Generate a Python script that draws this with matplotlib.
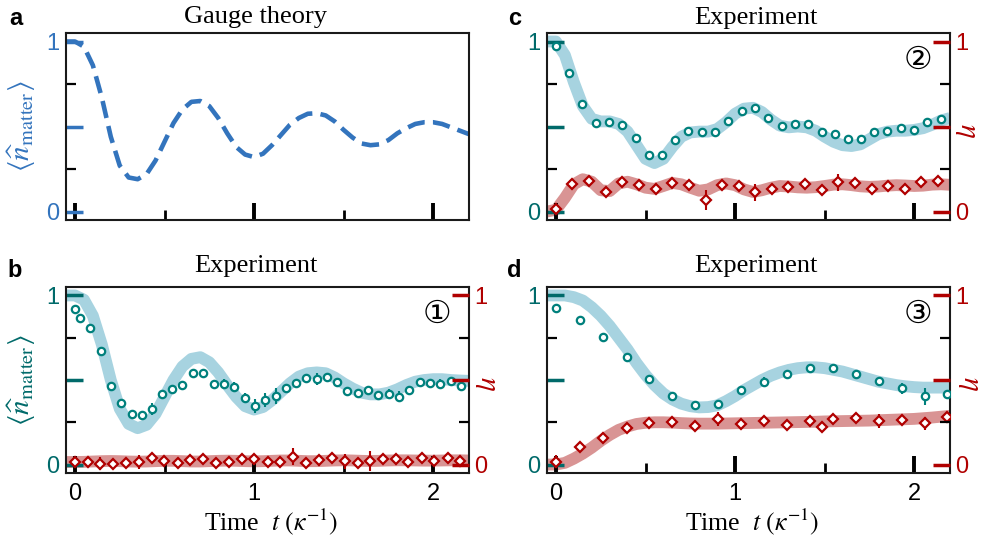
import numpy as np
import matplotlib
matplotlib.use("Agg")
import matplotlib.pyplot as plt
from matplotlib.ticker import FixedLocator

plt.rcParams['font.family'] = ['Liberation Sans', 'DejaVu Sans']
plt.rcParams['mathtext.fontset'] = 'stix'

# ---------------- data ----------------
# sampling grid of the theory curves (time in units of 1/kappa)
t_curve = np.linspace(-0.05, 2.2, 46)

gauge_theory = [1.0, 1.0, 0.97, 0.86, 0.67, 0.44, 0.27, 0.20, 0.19, 0.22,
                0.30, 0.41, 0.52, 0.60, 0.645, 0.65, 0.62, 0.55, 0.46, 0.38,
                0.335, 0.32, 0.34, 0.39, 0.45, 0.51, 0.55, 0.575, 0.578, 0.565,
                0.53, 0.48, 0.435, 0.40, 0.39, 0.395, 0.42, 0.46, 0.49, 0.515,
                0.525, 0.525, 0.515, 0.495, 0.475, 0.455]

# regime 1
model1_matter = [1.0, 1.0, 0.975, 0.88, 0.71, 0.50, 0.33, 0.24, 0.215, 0.235,
                 0.30, 0.40, 0.50, 0.58, 0.625, 0.635, 0.605, 0.545, 0.47, 0.40,
                 0.345, 0.325, 0.34, 0.38, 0.43, 0.48, 0.52, 0.54, 0.545, 0.54,
                 0.515, 0.48, 0.45, 0.425, 0.415, 0.415, 0.425, 0.445, 0.47, 0.49,
                 0.50, 0.505, 0.505, 0.50, 0.497, 0.495]
model1_eta = [0.015, 0.015, 0.016, 0.018, 0.02, 0.021, 0.02, 0.018, 0.017, 0.018,
              0.02, 0.022, 0.022, 0.02, 0.018, 0.018, 0.02, 0.022, 0.023, 0.022,
              0.02, 0.019, 0.02, 0.022, 0.024, 0.024, 0.022, 0.02, 0.02, 0.022,
              0.024, 0.025, 0.024, 0.022, 0.021, 0.022, 0.024, 0.025, 0.025, 0.024,
              0.023, 0.023, 0.024, 0.025, 0.025, 0.024]
exp1_t = [0, 0.028, 0.084, 0.143, 0.2, 0.259, 0.316, 0.372, 0.43, 0.487,
          0.543, 0.6, 0.66, 0.716, 0.774, 0.832, 0.889, 0.949, 1.005, 1.062,
          1.12, 1.177, 1.233, 1.291, 1.349, 1.406, 1.464, 1.52, 1.578, 1.636,
          1.693, 1.751, 1.808, 1.866, 1.926, 1.981, 2.039, 2.097, 2.154]
exp1_matter = [0.92, 0.867, 0.808, 0.673, 0.465, 0.362, 0.297, 0.291, 0.327, 0.416,
               0.446, 0.471, 0.539, 0.539, 0.475, 0.475, 0.459, 0.396, 0.347, 0.382,
               0.406, 0.45, 0.485, 0.509, 0.505, 0.515, 0.491, 0.436, 0.426, 0.44,
               0.412, 0.416, 0.402, 0.44, 0.489, 0.481, 0.475, 0.495, 0.465]
exp1_matter_err = [0.01, 0.01, 0.01, 0.01, 0.01, 0.01, 0.01, 0.01, 0.035, 0.015,
                   0.01, 0.01, 0.015, 0.01, 0.01, 0.03, 0.03, 0.03, 0.04, 0.04,
                   0.045, 0.015, 0.015, 0.015, 0.035, 0.015, 0.015, 0.015, 0.015, 0.015,
                   0.015, 0.03, 0.03, 0.015, 0.025, 0.015, 0.03, 0.015, 0.03]
exp1_eta_t = [0, 0.071, 0.141, 0.214, 0.285, 0.357, 0.428, 0.499, 0.573, 0.644,
              0.714, 0.789, 0.86, 0.93, 1.001, 1.075, 1.146, 1.217, 1.291, 1.362,
              1.434, 1.507, 1.578, 1.648, 1.721, 1.792, 1.862, 1.935, 2.007, 2.08,
              2.151]
exp1_eta = [0.014, 0.016, 0.006, 0.006, 0.01, 0.014, 0.036, 0.02, 0.01, 0.024,
            0.03, 0.01, 0.016, 0.03, 0.03, 0.016, 0.016, 0.046, 0.01, 0.024,
            0.036, 0.02, 0.01, 0.02, 0.03, 0.03, 0.016, 0.04, 0.02, 0.04,
            0.02]
exp1_eta_err = [0.015, 0.015, 0.04, 0.015, 0.015, 0.04, 0.02, 0.015, 0.015, 0.015,
                0.015, 0.015, 0.03, 0.015, 0.035, 0.015, 0.015, 0.05, 0.015, 0.03,
                0.015, 0.045, 0.015, 0.06, 0.02, 0.015, 0.015, 0.015, 0.015, 0.015,
                0.015]

# regime 2
model2_matter = [1.0, 1.0, 0.92, 0.76, 0.62, 0.545, 0.53, 0.53, 0.515, 0.47,
                 0.39, 0.31, 0.285, 0.31, 0.38, 0.44, 0.465, 0.47, 0.47, 0.485,
                 0.525, 0.575, 0.605, 0.61, 0.585, 0.54, 0.505, 0.495, 0.50, 0.495,
                 0.475, 0.44, 0.41, 0.39, 0.385, 0.395, 0.425, 0.455, 0.47, 0.475,
                 0.475, 0.48, 0.49, 0.51, 0.535, 0.55]
model2_eta = [0.0, 0.01, 0.08, 0.16, 0.19, 0.175, 0.125, 0.12, 0.165, 0.175,
              0.16, 0.14, 0.133, 0.15, 0.168, 0.16, 0.14, 0.122, 0.13, 0.155,
              0.165, 0.155, 0.13, 0.115, 0.125, 0.14, 0.15, 0.147, 0.142, 0.14,
              0.143, 0.15, 0.158, 0.16, 0.155, 0.148, 0.145, 0.147, 0.152, 0.155,
              0.153, 0.15, 0.152, 0.158, 0.16, 0.157]
exp2_t = [0, 0.073, 0.147, 0.221, 0.296, 0.367, 0.445, 0.519, 0.593, 0.664,
          0.739, 0.813, 0.887, 0.962, 1.036, 1.111, 1.185, 1.26, 1.334, 1.408,
          1.483, 1.557, 1.632, 1.702, 1.777, 1.851, 1.926, 2.0, 2.074, 2.149]
exp2_matter = [0.974, 0.817, 0.63, 0.522, 0.528, 0.508, 0.433, 0.33, 0.335, 0.419,
               0.472, 0.467, 0.467, 0.535, 0.59, 0.606, 0.551, 0.502, 0.512, 0.512,
               0.469, 0.453, 0.427, 0.427, 0.467, 0.472, 0.492, 0.482, 0.528, 0.545]
exp2_matter_err = [0.01, 0.01, 0.01, 0.01, 0.01, 0.01, 0.01, 0.01, 0.015, 0.025,
                   0.01, 0.025, 0.01, 0.01, 0.01, 0.01, 0.01, 0.01, 0.01, 0.025,
                   0.01, 0.01, 0.01, 0.01, 0.01, 0.025, 0.01, 0.01, 0.01, 0.01]
exp2_eta_t = [0, 0.091, 0.184, 0.278, 0.37, 0.464, 0.557, 0.65, 0.743, 0.836,
              0.929, 1.022, 1.112, 1.205, 1.298, 1.391, 1.484, 1.574, 1.67, 1.764,
              1.853, 1.946, 2.039, 2.132]
exp2_eta = [0.016, 0.163, 0.178, 0.116, 0.175, 0.153, 0.133, 0.169, 0.153, 0.066,
            0.155, 0.149, 0.114, 0.135, 0.145, 0.159, 0.124, 0.172, 0.165, 0.135,
            0.149, 0.134, 0.172, 0.182]
exp2_eta_err = [0.02, 0.015, 0.015, 0.015, 0.015, 0.015, 0.015, 0.015, 0.015, 0.06,
                0.015, 0.015, 0.05, 0.015, 0.015, 0.015, 0.015, 0.05, 0.015, 0.015,
                0.015, 0.015, 0.015, 0.015]

# regime 3
model3_matter = [1.0, 1.0, 1.0, 0.99, 0.97, 0.93, 0.88, 0.82, 0.75, 0.68,
                 0.60, 0.53, 0.47, 0.42, 0.385, 0.36, 0.345, 0.338, 0.34, 0.35,
                 0.375, 0.405, 0.44, 0.47, 0.50, 0.525, 0.545, 0.56, 0.57, 0.575,
                 0.575, 0.57, 0.56, 0.55, 0.535, 0.52, 0.505, 0.49, 0.48, 0.47,
                 0.463, 0.458, 0.455, 0.455, 0.455, 0.455]
model3_eta = [0.0, 0.0, 0.01, 0.035, 0.065, 0.10, 0.14, 0.175, 0.205, 0.225,
              0.24, 0.247, 0.25, 0.25, 0.248, 0.245, 0.243, 0.242, 0.242, 0.242,
              0.243, 0.244, 0.245, 0.246, 0.247, 0.248, 0.249, 0.25, 0.251, 0.252,
              0.253, 0.255, 0.256, 0.257, 0.258, 0.259, 0.26, 0.262, 0.264, 0.266,
              0.268, 0.27, 0.274, 0.278, 0.283, 0.288]
exp3_t = [0, 0.134, 0.264, 0.394, 0.52, 0.65, 0.776, 0.906, 1.034, 1.162,
          1.29, 1.42, 1.547, 1.675, 1.803, 1.933, 2.063, 2.186]
exp3_matter = [0.927, 0.855, 0.754, 0.637, 0.505, 0.403, 0.352, 0.361, 0.44, 0.489,
               0.534, 0.57, 0.57, 0.538, 0.495, 0.45, 0.403, 0.42]
exp3_matter_err = [0.01, 0.01, 0.01, 0.01, 0.01, 0.01, 0.01, 0.01, 0.01, 0.03,
                   0.01, 0.01, 0.02, 0.01, 0.01, 0.03, 0.05, 0.01]
exp3_eta_t = [0, 0.134, 0.264, 0.394, 0.52, 0.65, 0.776, 0.906, 1.034, 1.162,
              1.29, 1.42, 1.484, 1.547, 1.675, 1.803, 1.933, 2.063, 2.186]
exp3_eta = [0.018, 0.102, 0.155, 0.216, 0.246, 0.25, 0.23, 0.269, 0.24, 0.259,
            0.234, 0.255, 0.224, 0.269, 0.273, 0.259, 0.263, 0.244, 0.279]
exp3_eta_err = [0.04, 0.015, 0.015, 0.015, 0.015, 0.015, 0.015, 0.04, 0.015, 0.015,
                0.015, 0.015, 0.015, 0.015, 0.015, 0.04, 0.015, 0.04, 0.015]

panel_letters = ['a', 'b', 'c', 'd']
panel_titles = ['Gauge theory', 'Experiment', 'Experiment', 'Experiment']
regime_marks = ['\u2460', '\u2461', '\u2462']
y_ticklabels = ['0', '', '1']
x_ticklabels = ['0', '1', '2']

# ---------------- style ----------------
BLUE = '#3374bd'
TEAL = '#00807c'
TEAL_DARK = '#006a6a'
BAND_BLUE = '#a7d3e0'
RED = '#b00000'
BAND_RED = '#d99494'
SERIF = 'Liberation Serif'
TICK_FS = 17
nlabel = r'$\langle \widehat{n}_{\mathrm{matter}} \rangle$'

fig = plt.figure(figsize=(9.85, 5.46), dpi=100)
W, H = 985, 546


def axes_at(left, top, right, bottom):
    return fig.add_axes([left / W, 1 - bottom / H, (right - left) / W, (bottom - top) / H])


ax_a = axes_at(66, 33, 469, 220)
ax_b = axes_at(66, 287, 469, 473)
ax_c = axes_at(547, 33, 950, 220)
ax_d = axes_at(547, 287, 950, 473)
axes = [ax_a, ax_b, ax_c, ax_d]


def style_axis(ax, ycolor, show_xlabels):
    ax.set_xlim(-0.05, 2.2)
    ax.set_ylim(-0.05, 1.05)
    for s in ax.spines.values():
        s.set_linewidth(1.5)
        s.set_color('#1a1a1a')
    ax.yaxis.set_major_locator(FixedLocator([0, 0.5, 1]))
    ax.yaxis.set_minor_locator(FixedLocator([0.25, 0.75]))
    ax.set_yticklabels(y_ticklabels)
    ax.xaxis.set_major_locator(FixedLocator([0, 1, 2]))
    ax.xaxis.set_minor_locator(FixedLocator([0.5, 1.5]))
    ax.tick_params(axis='y', which='major', direction='in', length=12, width=2.5,
                   color=ycolor, labelcolor=ycolor, labelsize=TICK_FS, pad=5)
    ax.tick_params(axis='y', which='minor', direction='in', length=7, width=1.6,
                   color='black')
    ax.tick_params(axis='x', which='major', direction='in', length=12, width=2.8,
                   color='black', labelsize=TICK_FS, pad=7,
                   labelbottom=show_xlabels)
    ax.tick_params(axis='x', which='minor', direction='in', length=7, width=2,
                   color='black')


def add_eta_axis(ax, label_x):
    ax2 = ax.twinx()
    ax2.set_ylim(-0.05, 1.05)
    ax2.yaxis.set_major_locator(FixedLocator([0, 0.5, 1]))
    ax2.yaxis.set_minor_locator(FixedLocator([0.25, 0.75]))
    ax2.set_yticklabels(y_ticklabels)
    ax2.tick_params(axis='y', which='major', direction='in', length=12, width=2.5,
                    color=RED, labelcolor=RED, labelsize=TICK_FS, pad=4)
    ax2.tick_params(axis='y', which='minor', direction='in', length=7, width=1.6,
                    color='black')
    for s in ax2.spines.values():
        s.set_visible(False)
    ax2.set_ylabel(r'$\eta$', color=RED, fontsize=21, rotation=270)
    ax2.yaxis.set_label_coords(label_x, 0.48)
    return ax2


def draw_experiment(ax, t_exp, m_exp, m_err, te_exp, e_exp, e_err,
                    m_model, e_model):
    ax.plot(t_curve, m_model, color=BAND_BLUE, lw=8.5, solid_capstyle='butt', zorder=1)
    ax.plot(t_curve, e_model, color=BAND_RED, lw=8.5, solid_capstyle='butt', zorder=1)
    ax.errorbar(t_exp, m_exp, yerr=m_err, fmt='o', ms=5.3, mfc='white', mec=TEAL,
                mew=1.6, ecolor=TEAL, elinewidth=1.5, capsize=0, zorder=3)
    ax.errorbar(te_exp, e_exp, yerr=e_err, fmt='D', ms=4.6, mfc='white', mec=RED,
                mew=1.6, ecolor=RED, elinewidth=1.5, capsize=0, zorder=3)


# panel a: gauge theory
ax_a.plot(t_curve, gauge_theory, color=BLUE, lw=3.3, dashes=(3.8, 1.8))
style_axis(ax_a, BLUE, False)
ax_a.set_ylabel(nlabel, color=BLUE, fontsize=21)
ax_a.yaxis.set_label_coords(-0.07, 0.5)

# panel b
draw_experiment(ax_b, exp1_t, exp1_matter, exp1_matter_err, exp1_eta_t, exp1_eta,
                exp1_eta_err, model1_matter, model1_eta)
style_axis(ax_b, TEAL_DARK, True)
ax_b.set_ylabel(nlabel, color=TEAL_DARK, fontsize=21)
ax_b.yaxis.set_label_coords(-0.07, 0.5)
add_eta_axis(ax_b, 1.08)

# panel c
draw_experiment(ax_c, exp2_t, exp2_matter, exp2_matter_err, exp2_eta_t, exp2_eta,
                exp2_eta_err, model2_matter, model2_eta)
style_axis(ax_c, TEAL_DARK, False)
add_eta_axis(ax_c, 1.077)

# panel d
draw_experiment(ax_d, exp3_t, exp3_matter, exp3_matter_err, exp3_eta_t, exp3_eta,
                exp3_eta_err, model3_matter, model3_eta)
style_axis(ax_d, TEAL_DARK, True)
add_eta_axis(ax_d, 1.085)

for ax in (ax_b, ax_d):
    ax.set_xticklabels(x_ticklabels)
    ax.set_xlabel(r'Time  $t\ (\kappa^{-1})$', fontsize=18.5, family=SERIF)
    ax.xaxis.set_label_coords(0.51, -0.18)

# titles
title_pos = [(0.471, 1.055), (0.471, 1.082), (0.519, 1.05), (0.519, 1.082)]
for ax, title, (tx, ty) in zip(axes, panel_titles, title_pos):
    ax.text(tx, ty, title, transform=ax.transAxes, ha='center', va='baseline',
            fontsize=19, family=SERIF)

# panel letters
letter_pos = [(9, 25), (7, 277), (508, 25), (507, 277)]
for letter, (lx, ly) in zip(panel_letters, letter_pos):
    fig.text(lx / W, 1 - ly / H, letter, fontsize=17, fontweight='bold',
             ha='left', va='baseline')

# regime markers
for ax, mark in zip((ax_b, ax_c, ax_d), regime_marks):
    ax.text(2.02, 0.89, mark, ha='center', va='center', fontsize=23,
            family=['DejaVu Sans', 'Noto Sans CJK JP'], zorder=5)

fig.savefig('out.png', dpi=100)
